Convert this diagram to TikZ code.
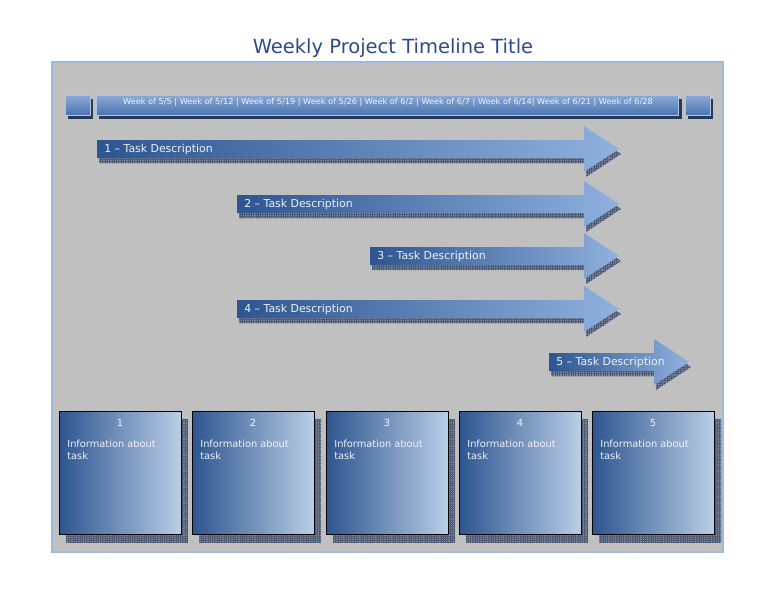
\documentclass[tikz,border=0pt]{standalone}
\usepackage{fontspec}
\setmainfont{DejaVu Sans}
\usetikzlibrary{backgrounds,patterns.meta}

\definecolor{titleblue}{HTML}{2B4C87}
\definecolor{panelgrey}{HTML}{C0C0C0}
\definecolor{panelline}{HTML}{9DB9DF}
\definecolor{bardark}{HTML}{4C74B0}
\definecolor{barlight}{HTML}{8CAAD7}
\definecolor{barshadow}{HTML}{26395A}
\definecolor{arrowdark}{HTML}{2D5590}
\definecolor{arrowlight}{HTML}{8FB1DE}
\definecolor{hatchgrey}{HTML}{7C879B}
\definecolor{hatchline}{HTML}{4E5A72}
\definecolor{boxlight}{HTML}{BACEE6}
\definecolor{boxmid}{HTML}{7A95BE}
\definecolor{textwhite}{HTML}{EEF2F8}

% arrow outline: left x, head x, centre y
\def\arrowpath#1#2#3{(#1,#3-9) -- (#2,#3-9) -- (#2,#3-23) -- (#2+35,#3)
  -- (#2,#3+23) -- (#2,#3+9) -- (#1,#3+9) -- cycle}

\begin{document}
\begin{tikzpicture}[x=0.02cm,y=-0.02cm,
    hatched/.style={fill=hatchgrey,postaction={pattern={Lines[angle=0,distance=1.3pt,line width=0.35pt]},pattern color=hatchline},
                    postaction={pattern={Lines[angle=90,distance=1.3pt,line width=0.35pt]},pattern color=hatchline}},
    tasktext/.style={text=textwhite,font=\fontsize{6.2}{7}\selectfont,anchor=west,inner sep=0pt},
    infotext/.style={text=textwhite,font=\fontsize{5.6}{6.9}\selectfont,inner sep=0pt}]

  \useasboundingbox (0,0) rectangle (768,593);
  \fill[white] (0,0) rectangle (768,593);

  \node[text=titleblue,font=\fontsize{11.1}{13}\selectfont] (title) at (393,48.5) {Weekly Project Timeline Title};

  % grey panel
  \fill[panelgrey] (52,62) rectangle (723,552);
  \draw[panelline,line width=0.6pt] (52,62) rectangle (723,552);

  % week header
  \begin{scope}
      \fill[barshadow] (68,99) rectangle (93,119);
      \fill[barshadow] (99,99) rectangle (682,119);
      \fill[barshadow] (688,99) rectangle (713,119);
      \shade[top color=barlight,bottom color=bardark] (65,95) rectangle (90,115);
      \shade[top color=barlight,bottom color=bardark] (96,95) rectangle (678,115);
      \shade[top color=barlight,bottom color=bardark] (685,95) rectangle (710,115);
      \draw[barlight!70!white,line width=0.3pt] (65,95) rectangle (90,115);
      \draw[barlight!70!white,line width=0.3pt] (96,95) rectangle (678,115);
      \draw[barlight!70!white,line width=0.3pt] (685,95) rectangle (710,115);
  \end{scope}
  \node[text=textwhite,font=\fontsize{4.65}{5.5}\selectfont] (weeks) at (388,102.5)
      {Week of 5/5 | Week of 5/12 | Week of 5/19 | Week of 5/26 | Week of 6/2 | Week of 6/7 | Week of 6/14| Week of 6/21 | Week of 6/28};

  % task arrows
  \foreach \n/\l/\h/\c in {1/97/584/149,2/237/584/204,3/370/584/256,4/237/584/309,5/549/654/362}{
      \path[hatched] [shift={(2,5)}] \arrowpath{\l}{\h}{\c};
      \shade[left color=arrowdark,right color=arrowlight] \arrowpath{\l}{\h}{\c};
      \node[tasktext] (task\n) at (\l+7,\c) {\n{} – Task Description};
  }

  % info boxes
  \foreach \i/\x in {1/59,2/192,3/326,4/459,5/592}{
      \path[hatched] (\x+7,419) rectangle (\x+129,542);
      \shade[left color=arrowdark,middle color=boxmid,right color=boxlight] (\x,411) rectangle (\x+122,534);
      \draw[black,line width=0.5pt] (\x,411) rectangle (\x+122,534);
      \node[infotext] (num\i) at (\x+61,422.5) {\i};
      \node[infotext,anchor=north west,align=left] (info\i) at (\x+8,440) {Information about\\task};
  }

\end{tikzpicture}
\end{document}
